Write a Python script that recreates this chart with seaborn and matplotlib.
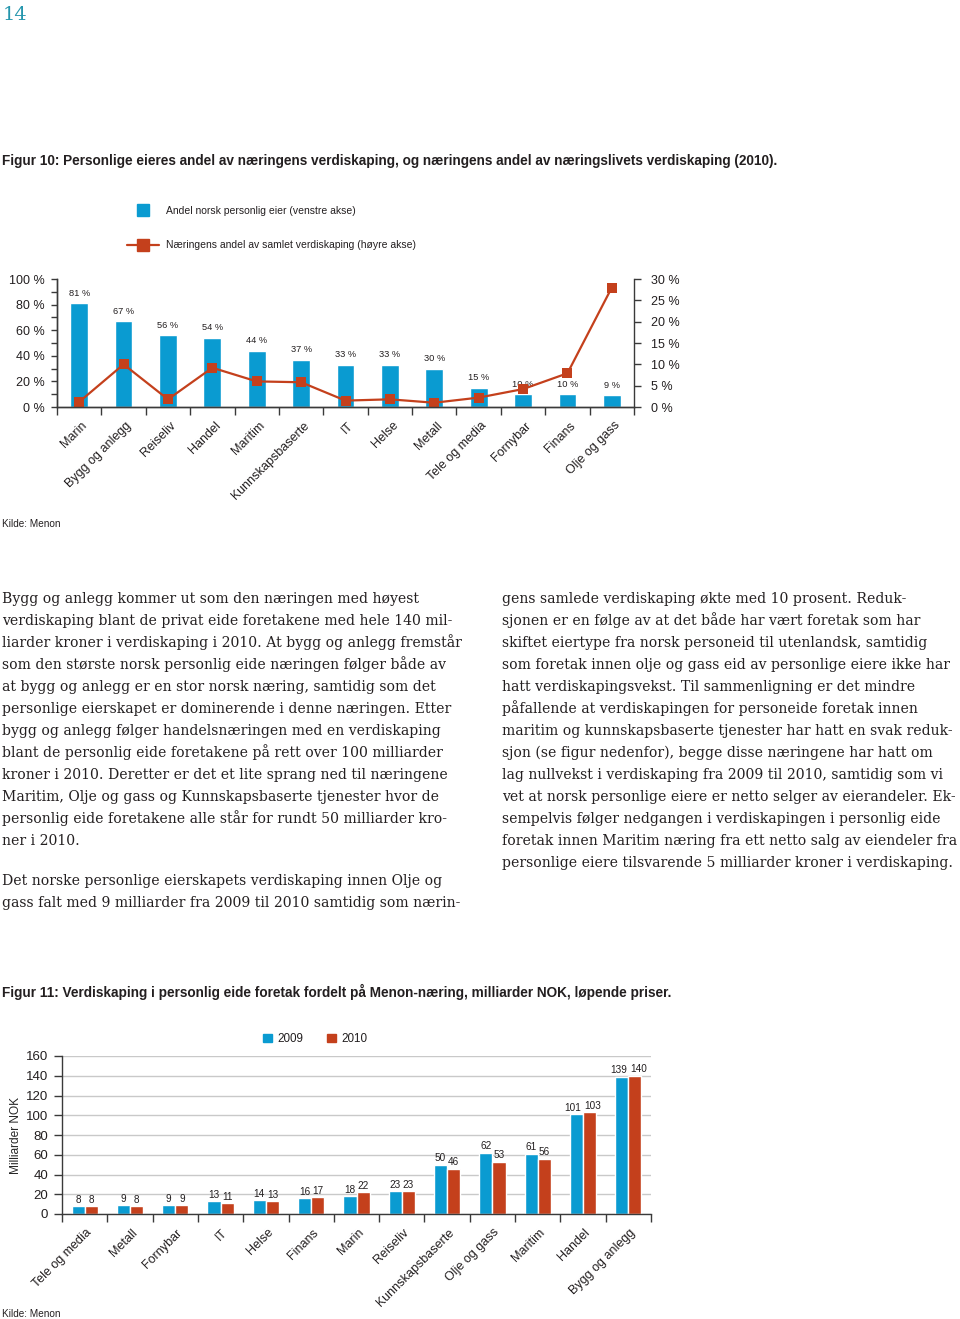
import numpy as np
import pandas as pd
import matplotlib
matplotlib.use("Agg")
import matplotlib.pyplot as plt
import matplotlib.transforms as mtransforms
from matplotlib.lines import Line2D
from matplotlib.patches import Patch
from matplotlib.ticker import MultipleLocator, FuncFormatter
import seaborn as sns

# Figur 10 - andel norsk personlig eier og naeringens andel av samlet verdiskaping
naeringer_10 = ["Marin", "Bygg og anlegg", "Reiseliv", "Handel", "Maritim",
                "Kunnskapsbaserte", "IT", "Helse", "Metall", "Tele og media",
                "Fornybar", "Finans", "Olje og gass"]
andel_personlig = [81, 67, 56, 54, 44, 37, 33, 33, 30, 15, 10, 10, 9]
andel_verdiskaping = [1.2, 10.0, 1.8, 9.2, 6.0, 5.8, 1.5, 1.8, 1.0, 2.2, 4.2, 7.9, 28.0]

# Figur 11 - verdiskaping i personlig eide foretak, milliarder NOK
naeringer_11 = ["Tele og media", "Metall", "Fornybar", "IT", "Helse", "Finans",
                "Marin", "Reiseliv", "Kunnskapsbaserte", "Olje og gass",
                "Maritim", "Handel", "Bygg og anlegg"]
verdi_2009 = [8, 9, 9, 13, 14, 16, 18, 23, 50, 62, 61, 101, 139]
verdi_2010 = [8, 8, 9, 11, 13, 17, 22, 23, 46, 53, 56, 103, 140]

tittel_10 = ("Figur 10: Personlige eieres andel av næringens verdiskaping, "
             "og næringens andel av næringslivets verdiskaping (2010).")
tittel_11 = ("Figur 11: Verdiskaping i personlig eide foretak fordelt på "
             "Menon-næring, milliarder NOK, løpende priser.")

venstre_spalte = [
    "Bygg og anlegg kommer ut som den næringen med høyest",
    "verdiskaping blant de privat eide foretakene med hele 140 mil-",
    "liarder kroner i verdiskaping i 2010. At bygg og anlegg fremstår",
    "som den største norsk personlig eide næringen følger både av",
    "at bygg og anlegg er en stor norsk næring, samtidig som det",
    "personlige eierskapet er dominerende i denne næringen. Etter",
    "bygg og anlegg følger handelsnæringen med en verdiskaping",
    "blant de personlig eide foretakene på rett over 100 milliarder",
    "kroner i 2010. Deretter er det et lite sprang ned til næringene",
    "Maritim, Olje og gass og Kunnskapsbaserte tjenester hvor de",
    "personlig eide foretakene alle står for rundt 50 milliarder kro-",
    "ner i 2010.",
]
venstre_spalte_2 = [
    "Det norske personlige eierskapets verdiskaping innen Olje og",
    "gass falt med 9 milliarder fra 2009 til 2010 samtidig som nærin-",
]
hoyre_spalte = [
    "gens samlede verdiskaping økte med 10 prosent. Reduk-",
    "sjonen er en følge av at det både har vært foretak som har",
    "skiftet eiertype fra norsk personeid til utenlandsk, samtidig",
    "som foretak innen olje og gass eid av personlige eiere ikke har",
    "hatt verdiskapingsvekst. Til sammenligning er det mindre",
    "påfallende at verdiskapingen for personeide foretak innen",
    "maritim og kunnskapsbaserte tjenester har hatt en svak reduk-",
    "sjon (se figur nedenfor), begge disse næringene har hatt om",
    "lag nullvekst i verdiskaping fra 2009 til 2010, samtidig som vi",
    "vet at norsk personlige eiere er netto selger av eierandeler. Ek-",
    "sempelvis følger nedgangen i verdiskapingen i personlig eide",
    "foretak innen Maritim næring fra ett netto salg av eiendeler fra",
    "personlige eiere tilsvarende 5 milliarder kroner i verdiskaping.",
]

BLUE = "#0a9bd1"
RED = "#c4401c"
TXT = "#231f20"
AXC = "#3a3a3a"

sns.set_theme(style="ticks")
plt.rcParams['font.family'] = ['Liberation Sans', 'DejaVu Sans']
plt.rcParams['text.color'] = TXT
plt.rcParams['xtick.color'] = AXC
plt.rcParams['ytick.color'] = AXC
plt.rcParams['xtick.labelcolor'] = TXT
plt.rcParams['ytick.labelcolor'] = TXT

W, H = 960, 1319
fig = plt.figure(figsize=(W / 100, H / 100), dpi=100)
fig.patch.set_facecolor("white")


def rect(x0, y0, x1, y1):
    return [x0 / W, 1 - y1 / H, (x1 - x0) / W, (y1 - y0) / H]


def fx(x):
    return x / W


def fy(y):
    return 1 - y / H


def shift_labels(ax, dx_px):
    off = mtransforms.ScaledTranslation(dx_px / 100, 0, fig.dpi_scale_trans)
    for lbl in ax.get_xticklabels():
        lbl.set_transform(lbl.get_transform() + off)


# ---------- sidetall og titler ----------
fig.text(fx(3), fy(20), "14", fontfamily="DejaVu Serif", fontsize=14,
         color="#2596ad", va="baseline")
fig.text(fx(2), fy(165), tittel_10, fontsize=9.8, fontweight="bold", va="baseline")
fig.text(fx(2), fy(527), "Kilde: Menon", fontsize=7.2, va="baseline")
fig.text(fx(2), fy(997), tittel_11, fontsize=9.8, fontweight="bold", va="baseline")
fig.text(fx(2), fy(1317), "Kilde: Menon", fontsize=7.2, va="baseline")

# ---------- brødtekst ----------
serif = dict(fontfamily="DejaVu Serif", fontsize=10.05, va="baseline", color=TXT)
for i, line in enumerate(venstre_spalte):
    fig.text(fx(2), fy(603 + 22 * i), line, **serif)
for i, line in enumerate(venstre_spalte_2):
    fig.text(fx(2), fy(885 + 22 * i), line, **serif)
for i, line in enumerate(hoyre_spalte):
    fig.text(fx(502), fy(603 + 22 * i), line, **serif)

# ---------- Figur 10 ----------
df10 = pd.DataFrame({"naering": naeringer_10, "andel": andel_personlig,
                     "verdi": andel_verdiskaping})
ax1 = fig.add_axes(rect(57, 279, 634, 407))
sns.barplot(data=df10, x="naering", y="andel", color=BLUE, width=0.4,
            saturation=1, ax=ax1)
ax1.set_xlim(-0.5, 12.5)
ax1.set_ylim(0, 100)
ax1.set_xlabel("")
ax1.set_ylabel("")
ax1.bar_label(ax1.containers[0], labels=[f"{v} %" for v in andel_personlig],
              padding=4, fontsize=6.7, color=TXT)
ax1.yaxis.set_major_locator(MultipleLocator(20))
ax1.yaxis.set_minor_locator(MultipleLocator(10))
ax1.yaxis.set_major_formatter(FuncFormatter(lambda v, p: f"{v:.0f} %"))
ax1.tick_params(axis="y", which="both", direction="out", length=4, width=1,
                pad=5, labelsize=9)
ax1.set_xticks(range(len(naeringer_10)))
ax1.set_xticklabels(naeringer_10, rotation=45, ha="right", rotation_mode="anchor")
ax1.set_xticks(np.arange(-0.5, 13, 1), minor=True)
ax1.tick_params(axis="x", which="major", length=0, pad=9, labelsize=9)
ax1.tick_params(axis="x", which="minor", direction="out", length=6, width=1)
shift_labels(ax1, 2)

ax2 = ax1.twinx()
sns.lineplot(x=np.arange(len(naeringer_10)), y=df10["verdi"], ax=ax2,
             color=RED, marker="s", markersize=7, markeredgewidth=0,
             linewidth=1.6)
ax2.set_ylim(0, 30)
ax2.set_ylabel("")
ax2.yaxis.set_major_locator(MultipleLocator(5))
ax2.yaxis.set_major_formatter(FuncFormatter(lambda v, p: f"{v:.0f} %"))
ax2.tick_params(axis="y", direction="out", length=5, width=1, pad=7, labelsize=9)
for a in (ax1, ax2):
    a.spines["top"].set_visible(False)
    for s in ("left", "right", "bottom"):
        a.spines[s].set_color(AXC)
        a.spines[s].set_linewidth(1)
ax1.spines["right"].set_visible(False)

leg1 = [Line2D([], [], color=BLUE, marker="s", linestyle="none", markersize=8),
        Line2D([], [], color=RED, marker="s", markersize=8, linewidth=1.6)]
fig.legend(leg1, ["Andel norsk personlig eier (venstre akse)",
                  "Næringens andel av samlet verdiskaping (høyre akse)"],
           loc="center left", bbox_to_anchor=(fx(127), fy(228)), frameon=False,
           fontsize=7.5, handlelength=3.1, handletextpad=0.6, labelspacing=2.4,
           borderpad=0, borderaxespad=0)

# ---------- Figur 11 ----------
df11 = pd.DataFrame({"naering": naeringer_11 * 2,
                     "aar": ["2009"] * len(verdi_2009) + ["2010"] * len(verdi_2010),
                     "verdi": verdi_2009 + verdi_2010})
ax3 = fig.add_axes(rect(62, 1056, 651, 1214))
sns.barplot(data=df11, x="naering", y="verdi", hue="aar", palette=[BLUE, RED],
            width=0.58, saturation=1, legend=False, ax=ax3)
# three-digit labels are pushed apart a little so they don't collide
for side, cont in zip((-1, 1), ax3.containers):
    for t in ax3.bar_label(cont, fontsize=7.2, padding=1, color=TXT):
        if len(t.get_text()) > 2:
            t.xyann = (side * 2.5, 1)
ax3.set_xlim(-0.5, 12.5)
ax3.set_ylim(0, 160)
ax3.set_xlabel("")
ax3.set_ylabel("Milliarder NOK", fontsize=8.6, labelpad=3)
ax3.yaxis.set_major_locator(MultipleLocator(20))
ax3.grid(axis="y", color="#c9c9c9", linewidth=1)
ax3.set_axisbelow(True)
ax3.tick_params(axis="y", direction="out", length=6, width=1, pad=4, labelsize=9.5)
ax3.set_xticks(range(len(naeringer_11)))
ax3.set_xticklabels(naeringer_11, rotation=45, ha="right", rotation_mode="anchor")
ax3.set_xticks(np.arange(-0.5, 13, 1), minor=True)
ax3.tick_params(axis="x", which="major", length=0, pad=9, labelsize=9)
ax3.tick_params(axis="x", which="minor", direction="out", length=6, width=1)
shift_labels(ax3, 1)
for s in ("top", "right"):
    ax3.spines[s].set_visible(False)
for s in ("left", "bottom"):
    ax3.spines[s].set_color(AXC)
    ax3.spines[s].set_linewidth(1)

fig.legend([Patch(color=BLUE), Patch(color=RED)], ["2009", "2010"],
           loc="center left", bbox_to_anchor=(fx(263), fy(1039)), ncol=2,
           frameon=False, fontsize=8.4, handlelength=0.75, handleheight=0.75,
           handletextpad=0.45, columnspacing=2.1, borderpad=0, borderaxespad=0)

fig.savefig("out.png", dpi=100, facecolor="white")
